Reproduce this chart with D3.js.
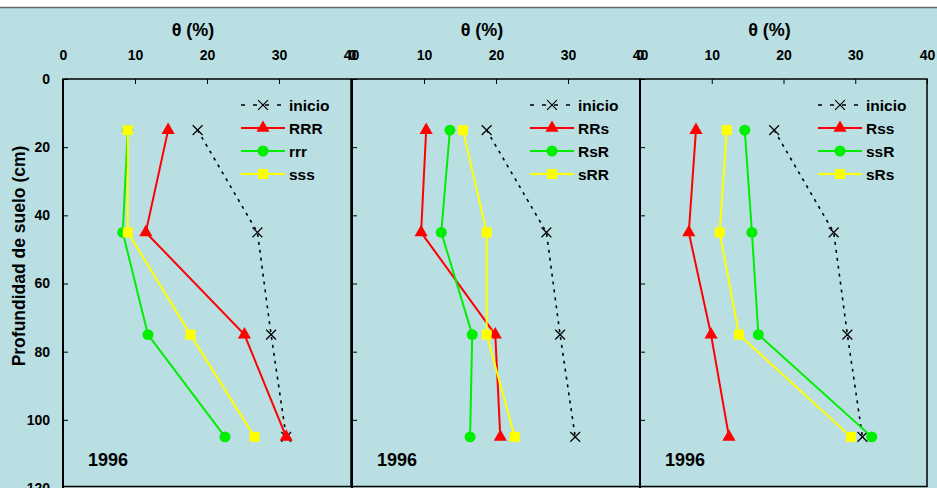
<!DOCTYPE html>
<meta charset="utf-8">
<style>
body { margin: 0; background: #fff; }
text { font-family: "Liberation Sans", Arial, sans-serif; font-weight: bold; fill: #000; }
.tick text { font-size: 14px; }
</style>
<svg width="937" height="488"></svg>
<script src="https://d3js.org/d3.v7.min.js"></script>
<script>

// depths (cm)
var depths = [15, 45, 75, 105];
var inicio = [18.7, 27.0, 28.9, 31.0];

var panelNames = [
  ["RRR", "rrr", "sss"],
  ["RRs", "RsR", "sRR"],
  ["Rss", "ssR", "sRs"]
];
var panelValues = [
  [[14.6, 11.5, 25.2, 31.0], [9.0, 8.3, 11.8, 22.5], [9.0, 9.0, 17.7, 26.6]],
  [[10.3, 9.6, 19.9, 20.6], [13.6, 12.4, 16.7, 16.4], [15.4, 18.7, 18.7, 22.6]],
  [[7.8, 6.8, 9.9, 12.4], [14.6, 15.6, 16.5, 32.3], [12.1, 11.1, 13.8, 29.4]]
];
var xTicks = [0, 10, 20, 30, 40];
var yTicks = [0, 20, 40, 60, 80, 100, 120];
var yearLabel = "1996";

var colors = ["#ff0000", "#00ee00", "#ffff00"];
var symbols = [d3.symbolTriangle, d3.symbolCircle, d3.symbolSquare];
var symSize = [75, 95, 100];

var svg = d3.select("svg");

svg.append("rect").attr("width", 937).attr("height", 488).attr("fill", "#b9dfe3");
svg.append("rect").attr("width", 937).attr("height", 7).attr("fill", "#fff");
svg.append("line").attr("x1", 0).attr("x2", 937).attr("y1", 7.5).attr("y2", 7.5)
  .attr("stroke", "#666").attr("stroke-width", 1.5);

var panelX = [63, 352, 640];
var panelW = 288;

var y = d3.scaleLinear().domain([0, 120]).range([79, 488]);

svg.append("text")
  .attr("transform", "translate(25," + 256 + ") rotate(-90)")
  .attr("text-anchor", "middle")
  .style("font-size", "17.5px")
  .text("Profundidad de suelo (cm)");

panelX.forEach(function(px, p) {
  var x = d3.scaleLinear().domain([0, 40]).range([px, px + panelW - (p == 2 ? 1 : 0)]);
  var g = svg.append("g");

  // x axis (top)
  g.append("g")
    .attr("transform", "translate(0," + y(0) + ")")
    .call(d3.axisTop(x).tickValues(xTicks).tickSize(-5).tickPadding(19).tickSizeOuter(0))
    .call(function(a) { a.select(".domain").remove(); a.selectAll("line").attr("stroke", "#000"); });

  // y axis (left)
  var ya = g.append("g")
    .attr("transform", "translate(" + px + ",0)")
    .call(d3.axisLeft(y).tickValues(yTicks).tickSize(-5).tickPadding(13).tickSizeOuter(0))
    .call(function(a) { a.select(".domain").remove(); a.selectAll("line").attr("stroke", "#000"); });
  if (p > 0) ya.selectAll("text").remove();

  // frame
  g.append("rect")
    .attr("x", x(0)).attr("y", y(0))
    .attr("width", x(40) - x(0)).attr("height", y(120) - y(0) - 1.5)
    .attr("fill", "none").attr("stroke", "#000").attr("stroke-width", 1.5);
  g.append("line").attr("x1", x(0)).attr("x2", x(0)).attr("y1", y(0)).attr("y2", 488)
    .attr("stroke", "#000").attr("stroke-width", 2);

  // axis title
  g.append("text")
    .attr("x", (x(0) + x(40)) / 2 - 14).attr("y", 36)
    .attr("text-anchor", "middle")
    .style("font-size", "18px")
    .attr("xml:space", "preserve")
    .text("θ (%)");

  var line = d3.line()
    .x(function(d) { return x(d[0]); })
    .y(function(d) { return y(d[1]); });

  // inicio
  var ini = inicio.map(function(v, i) { return [v, depths[i]]; });
  g.append("path").attr("d", line(ini))
    .attr("fill", "none").attr("stroke", "#000").attr("stroke-width", 1.6)
    .attr("stroke-dasharray", "3,5");
  var cross = d3.symbol().type(d3.symbolX).size(65);
  g.selectAll(".ini").data(ini).enter().append("path")
    .attr("d", cross)
    .attr("transform", function(d) { return "translate(" + x(d[0]) + "," + y(d[1]) + ")"; })
    .attr("fill", "none").attr("stroke", "#000").attr("stroke-width", 1.2);

  panelValues[p].forEach(function(vals, s) {
    var pts = vals.map(function(v, i) { return [v, depths[i]]; });
    g.append("path").attr("d", line(pts))
      .attr("fill", "none").attr("stroke", colors[s]).attr("stroke-width", 2);
    g.selectAll(".m" + s).data(pts).enter().append("path")
      .attr("d", d3.symbol().type(symbols[s]).size(symSize[s]))
      .attr("transform", function(d) { return "translate(" + x(d[0]) + "," + y(d[1]) + ")"; })
      .attr("fill", colors[s]);
  });

  // legend
  var lx = px + 178;
  var names = ["inicio"].concat(panelNames[p]);
  names.forEach(function(n, i) {
    var ly = 105 + i * 23;
    var lg = g.append("g");
    if (i == 0) {
      lg.append("line").attr("x1", lx).attr("x2", lx + 44).attr("y1", ly).attr("y2", ly)
        .attr("stroke", "#000").attr("stroke-width", 1.6).attr("stroke-dasharray", "4,8");
      lg.append("path").attr("d", cross).attr("transform", "translate(" + (lx + 22) + "," + ly + ")")
        .attr("fill", "none").attr("stroke", "#000").attr("stroke-width", 1.2);
    } else {
      lg.append("line").attr("x1", lx).attr("x2", lx + 44).attr("y1", ly).attr("y2", ly)
        .attr("stroke", colors[i - 1]).attr("stroke-width", 2);
      lg.append("path").attr("d", d3.symbol().type(symbols[i - 1]).size(symSize[i - 1]))
        .attr("transform", "translate(" + (lx + 22) + "," + ly + ")")
        .attr("fill", colors[i - 1]);
    }
    lg.append("text").attr("x", lx + 48).attr("y", ly + 5.5)
      .style("font-size", "15.5px").text(n);
  });

  g.append("text").attr("x", px + 25).attr("y", 466)
    .style("font-size", "18px").text(yearLabel);
});

</script>
